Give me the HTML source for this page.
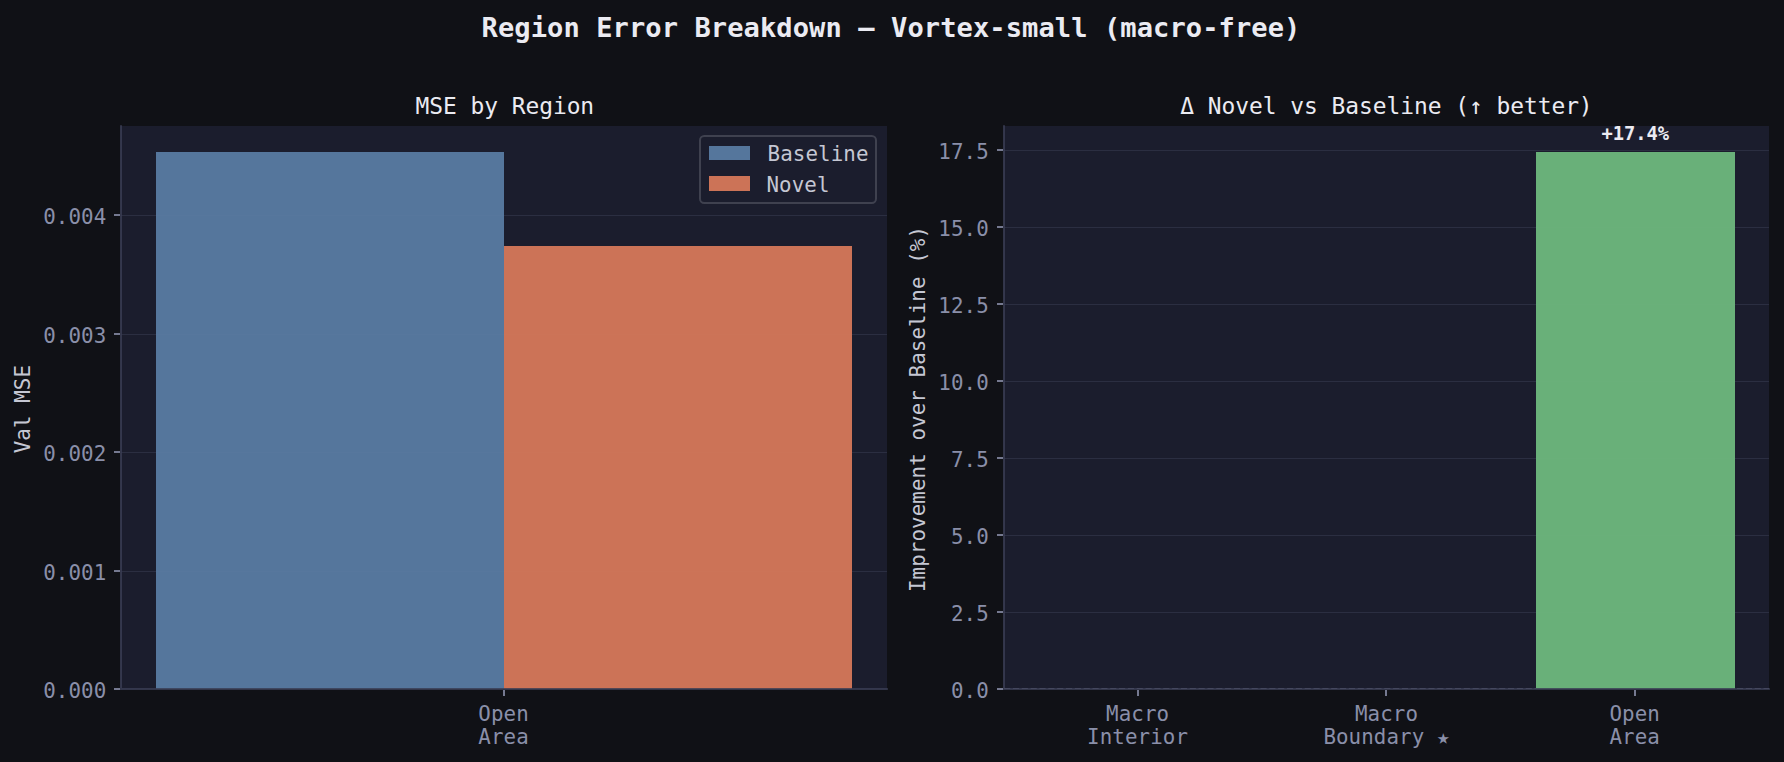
<!DOCTYPE html>
<html><head><meta charset="utf-8"><title>Region Error Breakdown</title>
<style>
html,body{margin:0;padding:0;background:#101116;overflow:hidden}
svg{display:block}
text{font-family:"DejaVu Sans Mono","Liberation Mono",monospace;white-space:pre}
.tk{font-size:20.83px;fill:#8a8fa9;letter-spacing:0.084px}
.ti{font-size:22.92px;fill:#ebebf2;letter-spacing:-0.049px}
.yl{font-size:20.83px;fill:#c5c7d3;letter-spacing:0.084px}
.lg{font-size:20.83px;fill:#c5c7d3;letter-spacing:0.084px}
</style></head>
<body>
<svg width="1784" height="762" viewBox="0 0 1784 762">
<rect x="0" y="0" width="1784" height="762" fill="#101116"/>
<text x="891" y="36.5" text-anchor="middle" font-size="27.08" font-weight="bold" fill="#ebebf2" letter-spacing="0.075">Region Error Breakdown — Vortex-small (macro-free)</text>

<!-- LEFT AXES -->
<g id="ax1">
<rect x="121.0" y="126.0" width="766.0" height="563.0" fill="#1b1d2d"/>
<g stroke="#2b2e41" stroke-width="1">
<line x1="121.0" x2="887.0" y1="215.5" y2="215.5"/>
<line x1="121.0" x2="887.0" y1="334.5" y2="334.5"/>
<line x1="121.0" x2="887.0" y1="452.5" y2="452.5"/>
<line x1="121.0" x2="887.0" y1="571.5" y2="571.5"/>
</g>
<rect x="156" y="152" width="348" height="537" fill="#55769c"/>
<rect x="504" y="246" width="348" height="443" fill="#cc7357"/>
<g stroke="#ffffff" stroke-opacity="0.01" stroke-width="1">
<line x1="156" x2="504" y1="215.5" y2="215.5"/>
<line x1="156" x2="852" y1="334.5" y2="334.5"/><line x1="156" x2="852" y1="452.5" y2="452.5"/><line x1="156" x2="852" y1="571.5" y2="571.5"/>
</g>
<polyline points="121.0,125.17 121.0,689.0 887.83,689.0" stroke="#3a3d54" stroke-opacity="0.83" stroke-width="2" fill="none" stroke-linejoin="miter"/>
<g stroke="#757990" stroke-width="2">
<line x1="114.0" x2="120.0" y1="215" y2="215"/>
<line x1="114.0" x2="120.0" y1="334" y2="334"/>
<line x1="114.0" x2="120.0" y1="452" y2="452"/>
<line x1="114.0" x2="120.0" y1="571" y2="571"/>
<line x1="114.0" x2="120.0" y1="689" y2="689"/>
</g>
<g stroke="#757990" stroke-width="2">
<line x1="504" x2="504" y1="690.0" y2="696.0"/>
</g>
<g class="tk" text-anchor="end">
<text x="106.3" y="224.0">0.004</text>
<text x="106.3" y="343.0">0.003</text>
<text x="106.3" y="461.0">0.002</text>
<text x="106.3" y="580.0">0.001</text>
<text x="106.3" y="698.0">0.000</text>
</g>
<g class="tk" text-anchor="middle">
<text x="503.6" y="721">Open</text>
<text x="503.6" y="744.3">Area</text>
</g>
<text class="yl" text-anchor="middle" transform="translate(30,409.1) rotate(-90)">Val MSE</text>
<text class="ti" x="504.8" y="113.5" text-anchor="middle">MSE by Region</text>
<rect x="700" y="136" width="176" height="67" rx="4.2" ry="4.2" fill="#1b1d2d" stroke="#3f414f" stroke-width="2"/>
<rect x="709" y="146" width="41" height="14" fill="#55769c"/>
<rect x="709" y="176" width="41" height="15" fill="#cc7357"/>
<text class="lg" x="767.6" y="161">Baseline</text>
<text class="lg" x="766.4" y="192">Novel</text>
</g>

<!-- RIGHT AXES -->
<g id="ax2">
<rect x="1004.0" y="126.0" width="765.0" height="563.0" fill="#1b1d2d"/>
<g stroke="#2b2e41" stroke-width="1">
<line x1="1004.0" x2="1769.0" y1="150.5" y2="150.5"/>
<line x1="1004.0" x2="1769.0" y1="227.5" y2="227.5"/>
<line x1="1004.0" x2="1769.0" y1="304.5" y2="304.5"/>
<line x1="1004.0" x2="1769.0" y1="381.5" y2="381.5"/>
<line x1="1004.0" x2="1769.0" y1="458.5" y2="458.5"/>
<line x1="1004.0" x2="1769.0" y1="535.5" y2="535.5"/>
<line x1="1004.0" x2="1769.0" y1="612.5" y2="612.5"/>
</g>
<rect x="1536" y="152" width="199" height="537" fill="#69b079"/>
<g stroke="#ffffff" stroke-opacity="0.01" stroke-width="1">
<line x1="1536" x2="1735" y1="227.5" y2="227.5"/><line x1="1536" x2="1735" y1="304.5" y2="304.5"/><line x1="1536" x2="1735" y1="381.5" y2="381.5"/><line x1="1536" x2="1735" y1="458.5" y2="458.5"/><line x1="1536" x2="1735" y1="535.5" y2="535.5"/><line x1="1536" x2="1735" y1="612.5" y2="612.5"/>
</g>
<polyline points="1004.0,125.17 1004.0,689.0 1769.83,689.0" stroke="#3a3d54" stroke-opacity="0.83" stroke-width="2" fill="none" stroke-linejoin="miter"/>
<g stroke="#45485f" stroke-width="1" stroke-dasharray="6.17 2.67">
<line x1="1004.1" x2="1536" y1="688.5" y2="688.5"/>
<line x1="1735" x2="1769" y1="688.5" y2="688.5" stroke-dashoffset="6.84"/>
</g>
<g stroke="#757990" stroke-width="2">
<line x1="997.0" x2="1003.0" y1="150" y2="150"/>
<line x1="997.0" x2="1003.0" y1="227" y2="227"/>
<line x1="997.0" x2="1003.0" y1="304" y2="304"/>
<line x1="997.0" x2="1003.0" y1="381" y2="381"/>
<line x1="997.0" x2="1003.0" y1="458" y2="458"/>
<line x1="997.0" x2="1003.0" y1="535" y2="535"/>
<line x1="997.0" x2="1003.0" y1="612" y2="612"/>
<line x1="997.0" x2="1003.0" y1="689" y2="689"/>
</g>
<g stroke="#757990" stroke-width="2">
<line x1="1138" x2="1138" y1="690.0" y2="696.0"/>
<line x1="1386" x2="1386" y1="690.0" y2="696.0"/>
<line x1="1635" x2="1635" y1="690.0" y2="696.0"/>
</g>
<g class="tk" text-anchor="end">
<text x="988.8" y="159.0">17.5</text>
<text x="988.8" y="236.0">15.0</text>
<text x="988.8" y="313.0">12.5</text>
<text x="988.8" y="390.0">10.0</text>
<text x="988.8" y="467.0">7.5</text>
<text x="988.8" y="544.0">5.0</text>
<text x="988.8" y="621.0">2.5</text>
<text x="988.8" y="698.0">0.0</text>
</g>
<g class="tk" text-anchor="middle">
<text x="1137.6" y="721">Macro</text>
<text x="1137.6" y="744.3">Interior</text>
<text x="1386.5" y="721">Macro</text>
<text x="1386.5" y="744.3">Boundary ★</text>
<text x="1634.7" y="721">Open</text>
<text x="1634.7" y="744.3">Area</text>
</g>
<text class="yl" text-anchor="middle" transform="translate(925,409) rotate(-90)">Improvement over Baseline (%)</text>
<text class="ti" x="1386.5" y="113.5" text-anchor="middle">Δ Novel vs Baseline (↑ better)</text>
<text x="1635.2" y="140" text-anchor="middle" font-size="18.75" font-weight="bold" fill="#ebebf2" letter-spacing="-0.038">+17.4%</text>
</g>
</svg>
</body></html>
